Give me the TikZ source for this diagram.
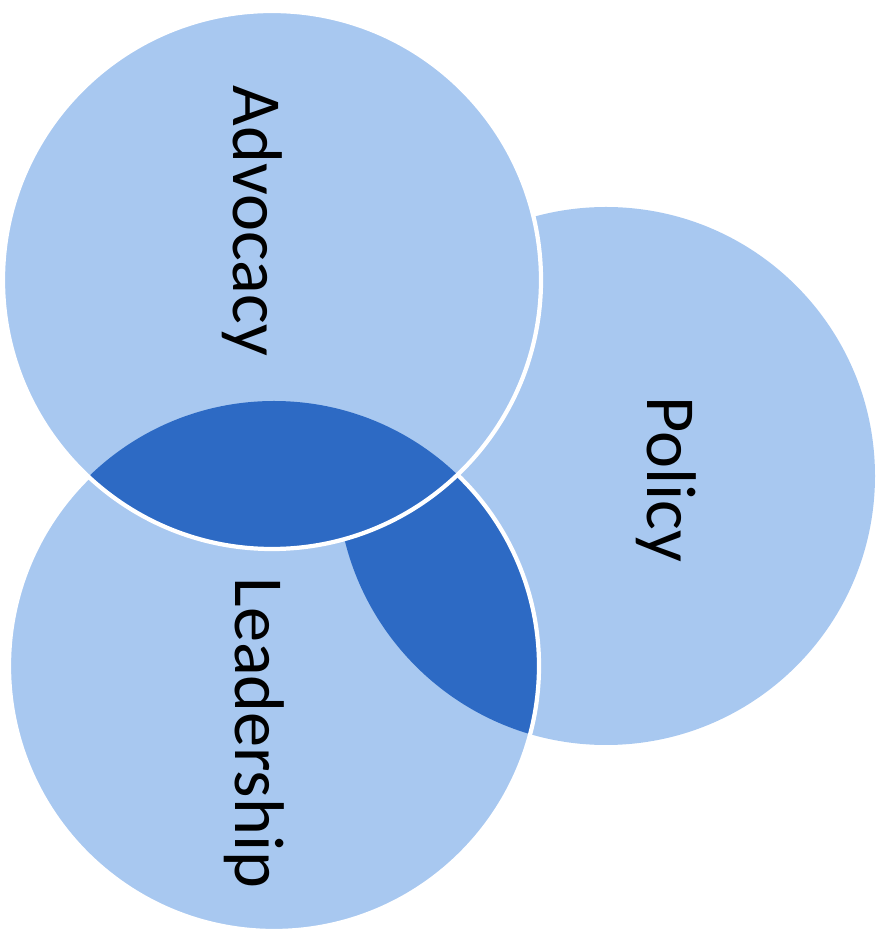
\documentclass[tikz,border=0pt]{standalone}
\usepackage{fontspec}
\setmainfont{Carlito}
\usetikzlibrary{positioning}
\definecolor{vennlight}{RGB}{168,200,240}
\definecolor{venndark}{RGB}{45,106,196}

\begin{document}
\begin{tikzpicture}[font=\fontsize{20}{24}\selectfont,
    ring/.style={draw=white, line width=1.2pt},
    vtext/.style={rotate=-90, anchor=base, inner sep=0pt}]
    \useasboundingbox (0,0) rectangle (8.85,9.35);
    \def\r{2.69}
    \def\rl{2.65}
    \coordinate (adv) at (2.72,6.55);
    \coordinate (pol) at (6.06,4.59);
    \coordinate (lead) at (2.74,2.69);
    % lower circles
    \fill[vennlight] (pol) circle (\r);
    \fill[vennlight] (lead) circle (\rl);
    \begin{scope}
        \clip (lead) circle (\rl);
        \fill[venndark] (pol) circle (\r);
    \end{scope}
    \draw[ring] (lead) circle (\rl);
    % top circle
    \fill[vennlight] (adv) circle (\r);
    \begin{scope}
        \clip (adv) circle (\r);
        \fill[venndark] (lead) circle (\rl);
    \end{scope}
    \draw[ring] (adv) circle (\r);
    % labels
    \node[vtext] (advtext) at (2.33,7.14) {Advocacy};
    \node[vtext] (poltext) at (6.47,4.56) {Policy};
    \node[vtext] (leadtext) at (2.35,2.02) {Leadership};
\end{tikzpicture}
\end{document}
